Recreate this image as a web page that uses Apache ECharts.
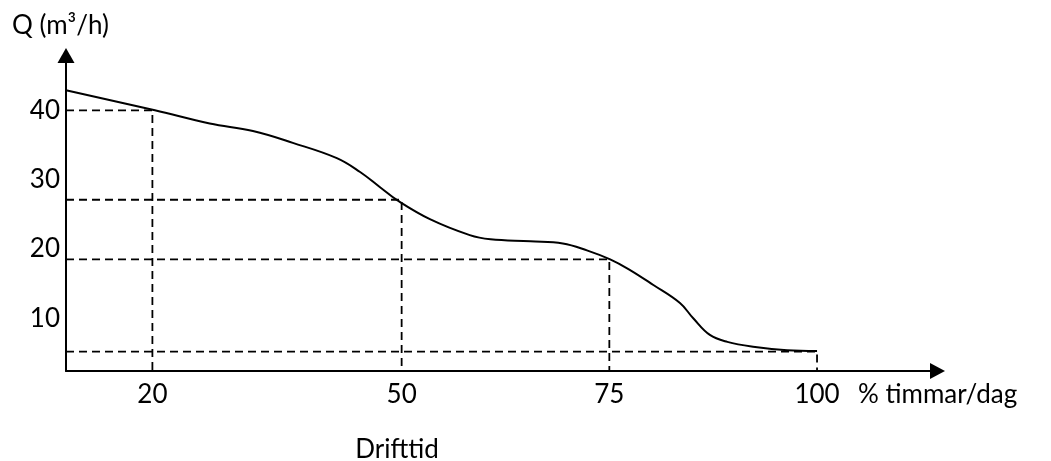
<!DOCTYPE html>
<html>
<head>
<meta charset="utf-8">
<script src="https://cdn.jsdelivr.net/npm/echarts@6/dist/echarts.min.js"></script>
<style>
html,body{margin:0;padding:0;background:#fff;}
#chart{width:1051px;height:461px;}
</style>
</head>
<body>
<div id="chart"></div>
<script>
// Curve: Q (m3/h) versus drift time (% hours/day)
const curveX = [9.6, 20.3, 26.9, 32.1, 36.9, 42.2, 45.0, 47.4, 49.5, 53.4, 58.2, 60.7, 65.5, 69.4, 72.3, 75.1, 77.3, 80.3, 83.5, 85.1, 87.1, 89.2, 92.3, 96.4, 100.0];
const curveY = [42.9, 40.0, 38.1, 37.0, 35.3, 33.1, 31.1, 28.9, 27.0, 24.3, 22.0, 21.4, 21.1, 20.8, 19.8, 18.5, 17.1, 14.8, 12.2, 10.0, 7.6, 6.6, 5.9, 5.4, 5.3];
// Reading (drop) lines
const dropX = [20, 50, 75, 100];
const dropY = [40, 27.1, 18.5, 5.2];
// Tick labels
const xTicks = [20, 50, 75, 100];
const yTicks = [10, 20, 30, 40];
// Axis ranges
const xMin = 9.6, xMax = 114.5;
const yMin = 2.4, yMax = 47.9;

const FONT = 'Lato';
const chart = echarts.init(document.getElementById('chart'));

const series = [{
  type: 'line',
  data: curveX.map((x, i) => [x, curveY[i]]),
  smooth: 0.4,
  showSymbol: false,
  lineStyle: { color: '#000', width: 2 },
  z: 3
}];
dropX.forEach((x, i) => {
  series.push({
    type: 'line',
    data: [[xMin, dropY[i]], [x, dropY[i]], [x, yMin]],
    showSymbol: false,
    lineStyle: { color: '#000', width: 1.8, type: [8, 5] },
    z: 2
  });
});

chart.setOption({
  animation: false,
  backgroundColor: '#fff',
  grid: { left: 66, right: 113.5, top: 55.5, bottom: 90, containLabel: false },
  xAxis: {
    type: 'value', min: xMin, max: xMax,
    axisLine: { show: true, symbol: ['none', 'triangle'], symbolSize: [16, 15], lineStyle: { color: '#000', width: 2 } },
    axisTick: { show: false },
    splitLine: { show: false },
    axisLabel: { customValues: xTicks, color: '#000', fontSize: 26, fontFamily: FONT, margin: 11 }
  },
  yAxis: {
    type: 'value', min: yMin, max: yMax,
    axisLine: { show: true, symbol: ['none', 'triangle'], symbolSize: [17, 15], lineStyle: { color: '#000', width: 2 } },
    axisTick: { show: false },
    splitLine: { show: false },
    axisLabel: { customValues: yTicks, color: '#000', fontSize: 26, fontFamily: FONT, margin: 6 }
  },
  graphic: [
    { type: 'text', x: 12, y: 26, style: { text: 'Q (m³/h)', fontSize: 26, fontFamily: FONT, fill: '#000', textVerticalAlign: 'middle' } },
    { type: 'text', x: 858, y: 395, style: { text: '% timmar/dag', fontSize: 26, fontFamily: FONT, fill: '#000', textVerticalAlign: 'middle' } },
    { type: 'text', x: 397, y: 450, style: { text: 'Drifttid', fontSize: 26, fontFamily: FONT, fill: '#000', textAlign: 'center', textVerticalAlign: 'middle' } }
  ],
  series: series
});
</script>
</body>
</html>
